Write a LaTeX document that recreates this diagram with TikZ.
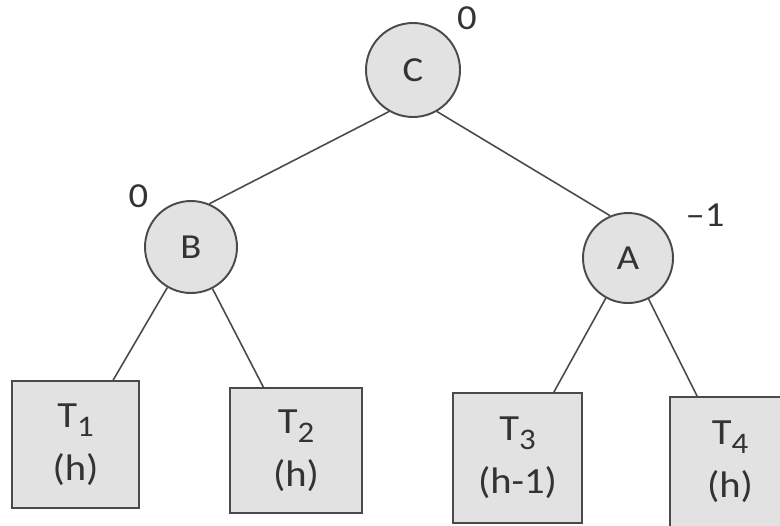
\documentclass[tikz,border=0pt]{standalone}
\usepackage{fontspec}
\setmainfont{Carlito}[FakeStretch=1.1]
\usepackage{xcolor}
\usepackage{tikz}
\usetikzlibrary{positioning}

\definecolor{nodegray}{HTML}{E2E2E2}
\definecolor{edgegray}{HTML}{4A4A4A}
\definecolor{inkgray}{HTML}{333333}

\tikzset{
  avlnode/.style={circle, draw=edgegray, line width=1.1pt, fill=nodegray, minimum size=1.84cm, inner sep=0pt, text=inkgray, font=\fontsize{20}{24}\selectfont},
  subtree/.style={rectangle, draw=edgegray, line width=1.1pt, fill=nodegray, inner sep=0pt, align=center, text=inkgray, font=\fontsize{21}{30}\selectfont},
  balance/.style={font=\fontsize{20}{24}\selectfont, text=inkgray},
  link/.style={draw=edgegray, line width=0.9pt}
}

\newcommand{\sub}[1]{\raisebox{-0.5ex}{\fontsize{17}{19}\selectfont #1}}

\begin{document}
\begin{tikzpicture}
  \useasboundingbox (0,0) rectangle (15.6,-10.5);

  % inner nodes
  \node[avlnode, minimum size=1.88cm] (c) at (8.26,-1.40) {C};
  \node[avlnode] (b) at (3.82,-4.94) {B};
  \node[avlnode, minimum size=1.80cm] (a) at (12.56,-5.16) {A};

  % subtrees
  \node[subtree, minimum width=2.54cm, minimum height=2.54cm] (t1) at (1.51,-8.89) {T\sub{1}\\(h)};
  \node[subtree, minimum width=2.64cm, minimum height=2.50cm] (t2) at (5.92,-9.01) {T\sub{2}\\(h)};
  \node[subtree, minimum width=2.58cm, minimum height=2.60cm] (t3) at (10.35,-9.16) {T\sub{3}\\(h-1)};
  \node[subtree, minimum width=2.40cm, minimum height=2.60cm] (t4) at (14.60,-9.24) {T\sub{4}\\(h)};

  % balance factors
  \node[balance] (bc) at (9.34,-0.36) {0};
  \node[balance] (bb) at (2.77,-3.92) {0};
  \node[balance] (ba) at (14.10,-4.30) {–1};

  % edges
  \draw[link] (c.240) -- (b.67);
  \draw[link] (c.300) -- (a.113);
  \draw[link] (b) -- (t1);
  \draw[link] (b) -- (t2);
  \draw[link] (a) -- (t3);
  \draw[link] (a) -- (t4);
\end{tikzpicture}
\end{document}
